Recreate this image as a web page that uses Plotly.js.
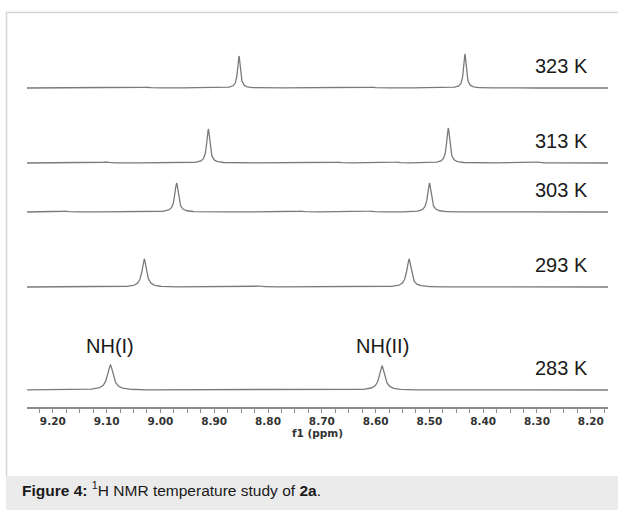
<!DOCTYPE html>
<html><head><meta charset="utf-8">
<script src="https://cdn.plot.ly/plotly-3.0.1.min.js"></script>
<style>html,body{margin:0;padding:0;background:#fff}#chart{width:618px;height:510px}</style>
</head><body><div id="chart"></div>
<script>
// ---- data ----
const temperatures = ['323 K', '313 K', '303 K', '293 K', '283 K'];
const nh1Shift  = [8.854, 8.911, 8.970, 9.030, 9.093];   // NH(I) ppm
const nh2Shift  = [8.434, 8.465, 8.500, 8.538, 8.588];   // NH(II) ppm
const nh1Height = [32, 34, 29, 28, 25];                  // relative intensity
const nh2Height = [34, 35, 29, 28, 24];
const nh1Width  = [0.006, 0.007, 0.008, 0.010, 0.013];   // FWHM ppm
const nh2Width  = [0.006, 0.007, 0.008, 0.010, 0.012];
const minorShifts  = [[9.025, 8.607], [9.101, 8.670, 8.561, 8.300], [9.178, 8.739, 8.609], [8.815], []];
const minorHeights = [[0.8, 0.8], [1.0, 0.8, 0.8, 0.8], [0.8, 0.8, 0.8], [0.8], []];
const tickValues = [9.2, 9.1, 9.0, 8.9, 8.8, 8.7, 8.6, 8.5, 8.4, 8.3, 8.2];
const tickLabels = ['9.20', '9.10', '9.00', '8.90', '8.80', '8.70', '8.60', '8.50', '8.40', '8.30', '8.20'];

// ---- layout constants ----
const ppmRange = [9.248, 8.168];
const plotTop = 30, plotBottom = 407, W = 618, H = 510, L = 27, R = 10;
const plotH = plotBottom - plotTop, plotW = W - L - R;
const baselinePx = [88, 163, 212, 287, 390];
const px2py = py => (plotBottom - py) / plotH;
const px2px = px => (px - L) / plotW;

function lorentz(x, x0, h, w) {
  const d = (x - x0) / (w / 2);
  return h / (1 + d * d);
}

const traces = [];
const layout = {
  width: W, height: H,
  margin: {l: L, r: R, t: plotTop, b: H - plotBottom},
  paper_bgcolor: '#fff', plot_bgcolor: 'rgba(0,0,0,0)',
  showlegend: false,
  xaxis: {
    range: ppmRange, anchor: 'free', position: 0,
    showline: true, linecolor: '#8c8c8c', linewidth: 1.5,
    ticks: 'outside', ticklen: 4, tickcolor: '#8c8c8c', tickwidth: 1,
    tickmode: 'array', tickvals: tickValues, ticktext: tickLabels,
    tickfont: {family: 'DejaVu Sans', size: 10.5, color: '#333', weight: 'bold'},
    minor: {dtick: 0.025, tick0: 9.2, ticks: 'outside', ticklen: 4, tickcolor: '#8c8c8c', showgrid: false},
    showgrid: false, zeroline: false, fixedrange: true,
    title: {text: 'f1 (ppm)', standoff: 0, font: {family: 'DejaVu Sans', size: 10.5, color: '#333', weight: 'bold'}}
  },
  annotations: [],
  shapes: []
};

const step = 0.0005;
for (let i = 0; i < temperatures.length; i++) {
  const xs = [], ys = [];
  for (let x = ppmRange[0]; x >= ppmRange[1] - 1e-9; x -= step) {
    let y = lorentz(x, nh1Shift[i], nh1Height[i], nh1Width[i]) +
            lorentz(x, nh2Shift[i], nh2Height[i], nh2Width[i]);
    for (let k = 0; k < minorShifts[i].length; k++) y += lorentz(x, minorShifts[i][k], minorHeights[i][k], 0.015);
    xs.push(x); ys.push(y);
  }
  const yName = i === 0 ? 'y' : 'y' + (i + 1);
  const yKey = i === 0 ? 'yaxis' : 'yaxis' + (i + 1);
  traces.push({x: xs, y: ys, xaxis: 'x', yaxis: yName, type: 'scatter', mode: 'lines',
    line: {color: '#7a7a7a', width: 1.3}, hoverinfo: 'skip'});
  const b = px2py(baselinePx[i]);
  layout[yKey] = {domain: [b - 3 / plotH, b + 40 / plotH], range: [-3, 40], visible: false, fixedrange: true};
  layout.annotations.push({xref: 'x', yref: yName, x: 8.254, y: 22, text: temperatures[i], showarrow: false,
    xanchor: 'center', yanchor: 'middle', font: {family: 'Liberation Sans', size: 20, color: '#1a1a1a'}});
}
const lastY = 'y5';
layout.annotations.push({xref: 'x', yref: lastY, x: nh1Shift[4], y: nh1Height[4], yshift: 19, text: 'NH(I)', showarrow: false,
  xanchor: 'center', yanchor: 'middle', font: {family: 'Liberation Sans', size: 20, color: '#1a1a1a'}});
layout.annotations.push({xref: 'x', yref: lastY, x: nh2Shift[4], y: nh2Height[4], yshift: 20, text: 'NH(II)', showarrow: false,
  xanchor: 'center', yanchor: 'middle', font: {family: 'Liberation Sans', size: 20, color: '#1a1a1a'}});

// figure frame and caption box
layout.shapes.push({type: 'rect', xref: 'paper', yref: 'paper', x0: px2px(6), x1: px2px(620), y0: px2py(476), y1: px2py(512),
  fillcolor: '#ebebeb', line: {width: 0}, layer: 'below'});
layout.shapes.push({type: 'line', xref: 'paper', yref: 'paper', x0: px2px(6), x1: px2px(620), y0: px2py(12.5), y1: px2py(12.5),
  line: {color: '#d6d6d6', width: 1.5}});
layout.shapes.push({type: 'line', xref: 'paper', yref: 'paper', x0: px2px(6.5), x1: px2px(6.5), y0: px2py(12), y1: px2py(476),
  line: {color: '#d6d6d6', width: 1.5}});
layout.annotations.push({xref: 'paper', yref: 'paper', x: px2px(20), y: px2py(489), xanchor: 'left', yanchor: 'middle',
  text: '<b>Figure 4:</b> <sup>1</sup>H NMR temperature study of <b>2a</b>.', showarrow: false,
  font: {family: 'Liberation Sans', size: 15.5, color: '#1a1a1a'}});

Plotly.newPlot('chart', traces, layout, {staticPlot: true, displayModeBar: false});
</script></body></html>
